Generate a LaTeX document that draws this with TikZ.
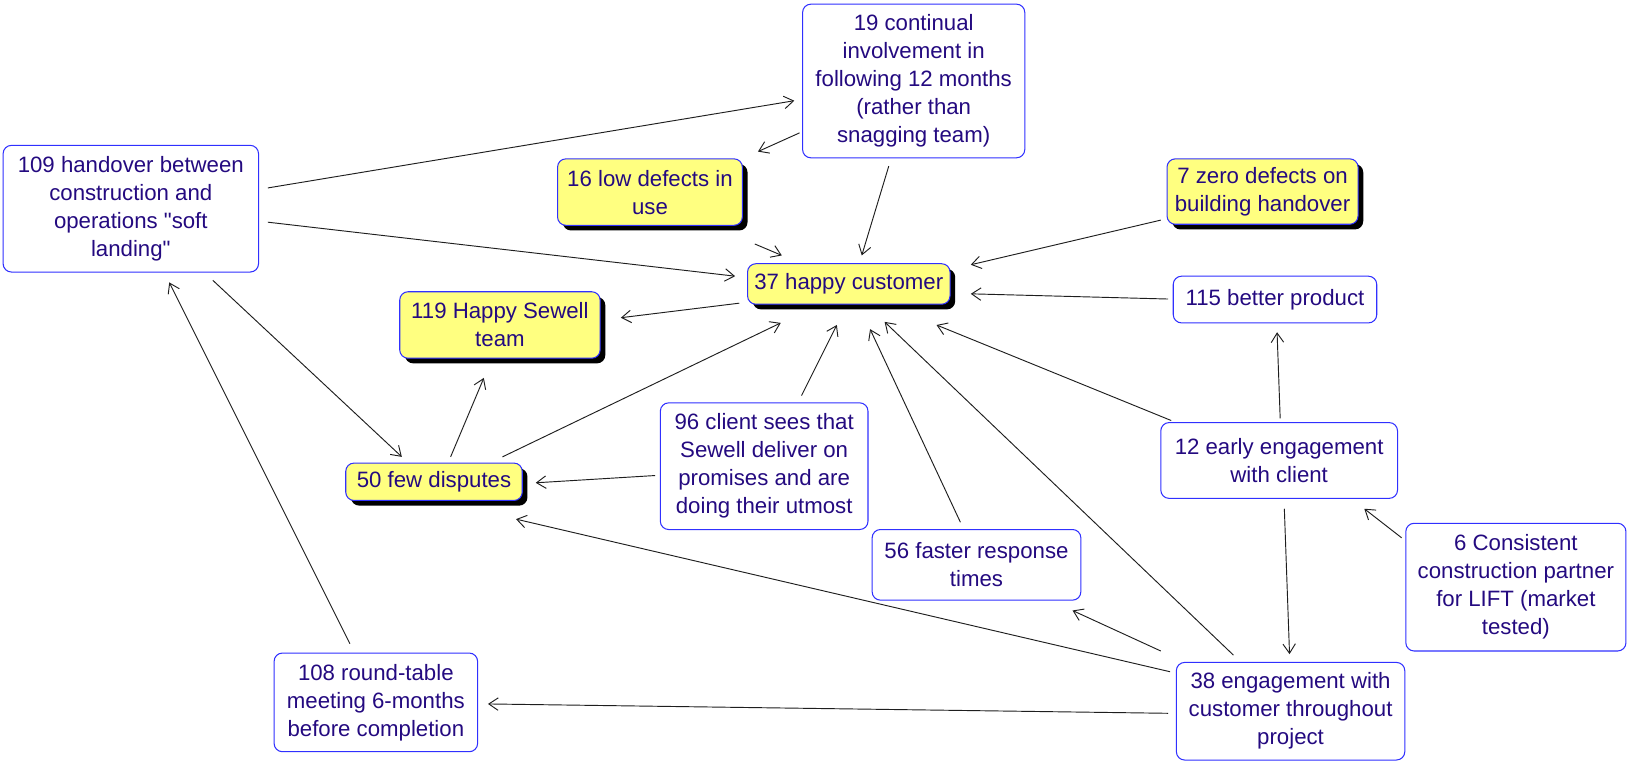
\documentclass[tikz,border=0pt]{standalone}
\usepackage{fontspec}
\setmainfont{Liberation Sans}[Ligatures=TeXOff]
\usetikzlibrary{arrows.meta,calc,shadows}
\definecolor{txtnavy}{RGB}{36,10,128}
\definecolor{boxblue}{RGB}{48,48,255}
\definecolor{boxyellow}{RGB}{255,255,128}
\tikzset{
  box/.style={rectangle, rounded corners=8pt, draw=boxblue, line width=1pt, fill=white,
    align=center, text=txtnavy, inner sep=2pt,
    font=\fontsize{21.4}{27}\selectfont},
  ybox/.style={box, fill=boxyellow,
    drop shadow={shadow xshift=5pt, shadow yshift=-5pt, fill=black, opacity=1}},
  arr/.style={line width=0.9pt, draw={rgb,255:red,30;green,30;blue,30},
    -{Straight Barb[length=9pt,width=12pt,line width=0.9pt]}},
}
\begin{document}
\begin{tikzpicture}[x=1pt,y=-1pt]
\useasboundingbox (0,0) rectangle (1568,736);
\fill[white] (0,0) rectangle (1568,736);
% nodes
\node[box, minimum width=214pt, minimum height=148pt] (n19) at (880,78) {19 continual\\involvement in\\following 12 months\\(rather than\\snagging team)};
\node[box, minimum width=246pt, minimum height=122pt] (n109) at (126,201) {109 handover between\\construction and\\operations "soft\\landing"};
\node[ybox, minimum width=178pt, minimum height=64pt] (n16) at (626,185) {16 low defects in\\use};
\node[ybox, minimum width=184pt, minimum height=63pt] (n7) at (1216,184.5) {7 zero defects on\\building handover};
\node[ybox, minimum width=195pt, minimum height=39pt] (n37) at (817.5,273.5) {37 happy customer};
\node[box, minimum width=196pt, minimum height=45pt] (n115) at (1228,288.5) {115 better product};
\node[ybox, minimum width=193pt, minimum height=64pt] (n119) at (481.5,313) {119 Happy Sewell\\team};
\node[ybox, minimum width=170pt, minimum height=36pt] (n50) at (418,464) {50 few disputes};
\node[box, minimum width=200pt, minimum height=122pt] (n96) at (736,449) {96 client sees that\\Sewell deliver on\\promises and are\\doing their utmost};
\node[box, minimum width=228pt, minimum height=73pt] (n12) at (1232,443.5) {12 early engagement\\with client};
\node[box, minimum width=201pt, minimum height=68pt] (n56) at (940.5,544) {56 faster response\\times};
\node[box, minimum width=212pt, minimum height=123pt] (n6) at (1460,565.5) {6 Consistent\\construction partner\\for LIFT (market\\tested)};
\node[box, minimum width=196pt, minimum height=95pt] (n108) at (362,676.5) {108 round-table\\meeting 6-months\\before completion};
\node[box, minimum width=220pt, minimum height=94pt] (n38) at (1243,685) {38 engagement with\\customer throughout\\project};
% connectors
\draw[arr] ($(n109)+(132,-20)$) -- ($(n19)+(-115,19)$);
\draw[arr] ($(n19)+(-110,50)$) -- ($(n16)+(104,-39)$);
\draw[arr] ($(n19)+(-24,82)$) -- ($(n37)+(12.5,-27.5)$);
\draw[arr] ($(n109)+(132,13)$) -- ($(n37)+(-109.5,-7.5)$);
\draw[arr] ($(n16)+(101,50)$) -- ($(n37)+(-64.5,-27.5)$);
\draw[arr] ($(n7)+(-98,27.5)$) -- ($(n37)+(117.5,-18.5)$);
\draw[arr] ($(n115)+(-103,-0.5)$) -- ($(n37)+(117.5,9.5)$);
\draw[arr] ($(n37)+(-105.5,18.5)$) -- ($(n119)+(116.5,-7)$);
\draw[arr] ($(n109)+(79,69)$) -- ($(n50)+(-31,-24)$);
\draw[arr] ($(n50)+(16,-24)$) -- ($(n119)+(-15.5,51)$);
\draw[arr] ($(n50)+(66,-24)$) -- ($(n37)+(-65.5,37.5)$);
\draw[arr] ($(n96)+(36,-68)$) -- ($(n37)+(-11.5,39.5)$);
\draw[arr] ($(n96)+(-105,9)$) -- ($(n50)+(98,1)$);
\draw[arr] ($(n56)+(-15.5,-41)$) -- ($(n37)+(20.5,43.5)$);
\draw[arr] ($(n12)+(-104,-38.5)$) -- ($(n37)+(84.5,39.5)$);
\draw[arr] ($(n12)+(1,-40.5)$) -- ($(n115)+(2,31.5)$);
\draw[arr] ($(n12)+(5,46.5)$) -- ($(n38)+(-1,-55)$);
\draw[arr] ($(n6)+(-110,-47.5)$) -- ($(n12)+(82,46.5)$);
\draw[arr] ($(n38)+(-55,-54)$) -- ($(n37)+(34.5,36.5)$);
\draw[arr] ($(n38)+(-125,-58)$) -- ($(n56)+(92.5,44)$);
\draw[arr] ($(n38)+(-116,-38)$) -- ($(n50)+(79,36)$);
\draw[arr] ($(n38)+(-118,2)$) -- ($(n108)+(108,1.5)$);
\draw[arr] ($(n108)+(-25,-56.5)$) -- ($(n109)+(37,71)$);
\end{tikzpicture}
\end{document}
